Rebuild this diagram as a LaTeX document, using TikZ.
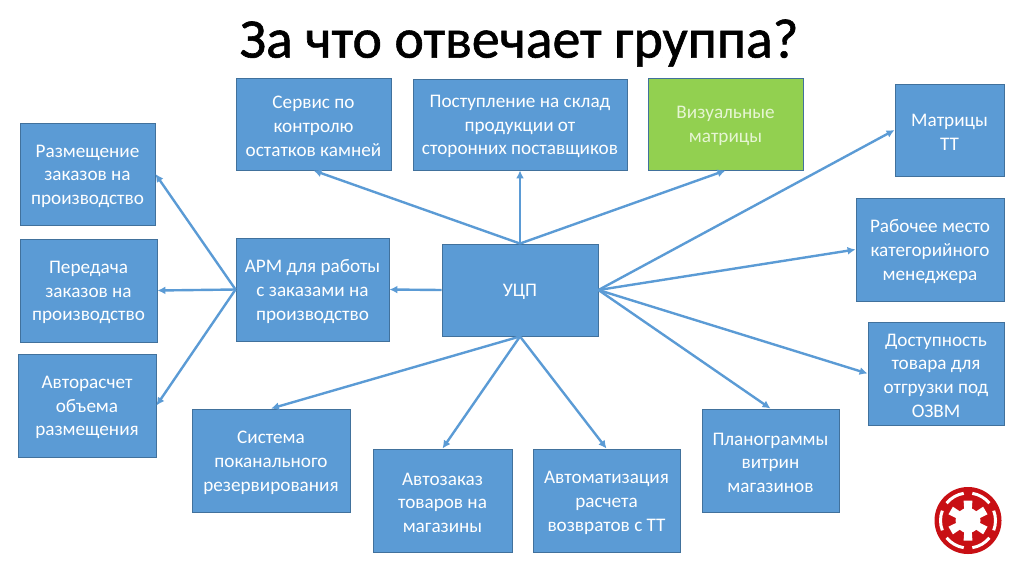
\documentclass[tikz,border=0pt]{standalone}
\usepackage{fontspec}
\setmainfont{Carlito}
\definecolor{bfill}{HTML}{5B9BD5}
\definecolor{bedge}{HTML}{41719C}
\definecolor{gfill}{HTML}{92D050}
\definecolor{gtext}{HTML}{E6F5D3}
\definecolor{impred}{HTML}{C80F14}
\usetikzlibrary{arrows.meta}
\tikzset{
 x=1pt,y=-1pt,
 boxn/.style={draw=bedge,line width=0.9pt,fill=bfill,inner sep=0pt},
 greenb/.style={boxn,fill=gfill},
 lab/.style={text=white,align=center,inner sep=0pt,font=\fontsize{19.2}{23.7}\selectfont},
 greenl/.style={lab,text=gtext},
 conn/.style={draw=bfill,line width=2.4pt,-{Latex[length=8pt,width=8pt]}}
}
\newcommand{\bx}[8][boxn]{\node[#1,minimum width=#5-#3,minimum height=#7-#6] (#2) at ({(#3+#5)/2},{(#6+#7)/2}) {};
 \node[#8] (#2-t) at ([yshift=-2.2pt]#2.center) {#4};}
\begin{document}
\begin{tikzpicture}
\useasboundingbox (0,0) rectangle (1024,574);
\node[font=\fontsize{55.8}{60}\selectfont,text=black,inner sep=0pt,draw=none] (title) at (519,43) {\special{pdf:literal direct 2 Tr 0.6 w}За что отвечает группа?\special{pdf:literal direct 0 Tr 0 w}};
\bx{serv}{236}{Сервис по\\контролю\\остатков камней}{391}{78}{170}{lab}
\bx{post}{413}{Поступление на склад\\продукции от\\сторонних поставщиков}{627}{79}{170}{lab}
\bx[greenb]{viz}{648}{Визуальные\\матрицы}{803}{78}{170}{greenl}
\bx{matr}{895}{Матрицы\\ТТ}{1004}{84}{176}{lab}
\bx{razm}{20}{Размещение\\заказов на\\производство}{155}{123}{225}{lab}
\bx{pered}{20}{Передача\\заказов на\\производство}{157}{239}{342}{lab}
\bx{avtor}{18}{Авторасчет\\объема\\размещения}{156}{354}{457}{lab}
\bx{arm}{236}{АРМ для работы\\с заказами на\\производство}{389}{238}{341}{lab}
\bx{ucp}{442}{УЦП}{598}{244}{336}{lab}
\bx{rab}{856}{Рабочее место\\категорийного\\менеджера}{1004}{198}{301}{lab}
\bx{dost}{868}{Доступность\\товара для\\отгрузки под\\ОЗВМ}{1004}{322}{425}{lab}
\bx{sist}{192}{Система\\поканального\\резервирования}{350}{409}{512}{lab}
\bx{zakaz}{373}{Автозаказ\\товаров на\\магазины}{512}{449}{552}{lab}
\bx{avtom}{533}{Автоматизация\\расчета\\возвратов с ТТ}{680}{449}{552}{lab}
\bx{plan}{702}{Планограммы\\витрин\\магазинов}{839}{409}{512}{lab}
\foreach \t in {serv,post,viz} \draw[conn] (ucp.north) -- (\t.south);
\foreach \t in {matr,rab,dost} \draw[conn] (ucp.east) -- (\t.west);
\draw[conn] (ucp.east) -- (plan.north);
\foreach \t in {sist,zakaz,avtom} \draw[conn] (ucp.south) -- (\t.north);
\draw[conn] (ucp.west) -- (arm.east);
\foreach \t in {razm,pered,avtor} \draw[conn] (arm.west) -- (\t.east);
% emblem
\begin{scope}[shift={(968,520.5)},yscale=-1]
\fill[impred] (0,0) circle[radius=33.5];
\foreach \a in {0,60,...,300}{
 \draw[white,line width=3pt] (\a-21:27.5) arc[start angle=\a-21,end angle=\a+21,radius=27.5];
}
\foreach \a in {30,90,...,330}{
 \fill[white,rotate=\a] (8,-3.6) -- (20,-4.4) -- (20,4.4) -- (8,3.6) -- cycle;
}
\fill[white] (0,0) circle[radius=12.5];
\end{scope}
\end{tikzpicture}
\end{document}
